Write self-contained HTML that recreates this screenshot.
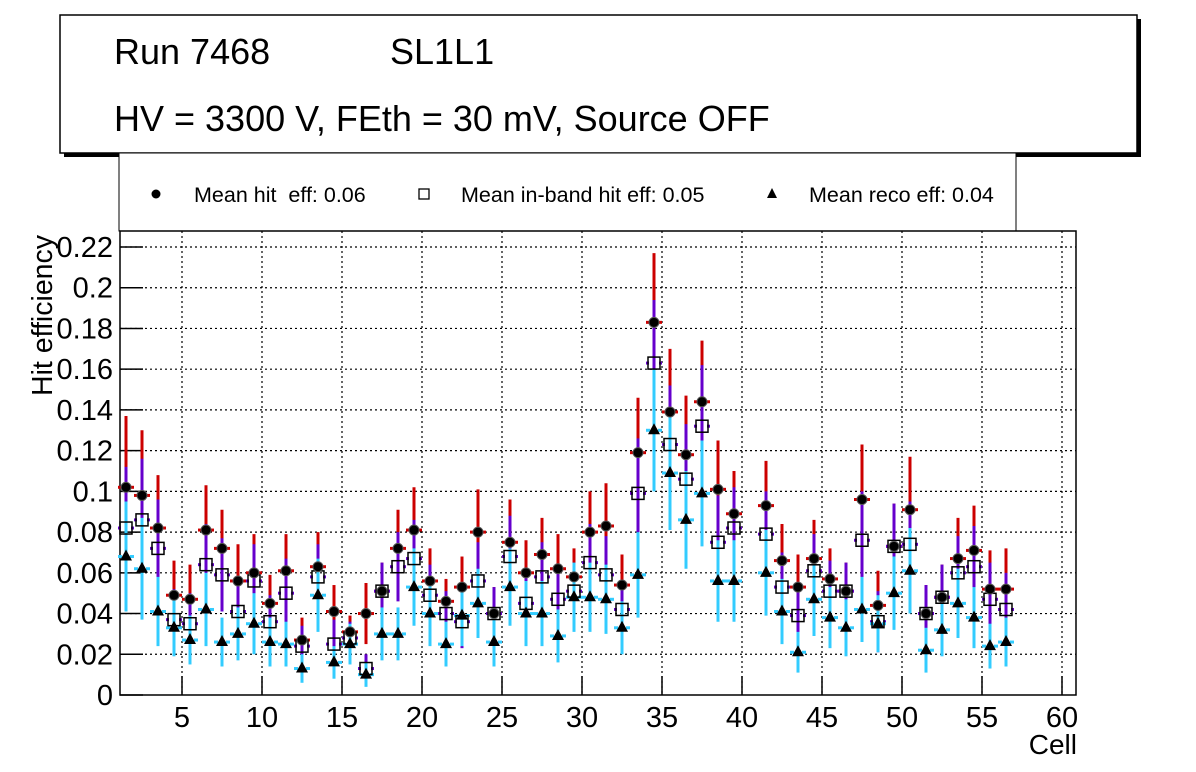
<!DOCTYPE html>
<html><head><meta charset="utf-8">
<style>
body{margin:0;background:#fff;}
svg{display:block;font-family:"Liberation Sans",sans-serif;}
</style></head>
<body>
<svg id="chart" width="1196" height="772">
<rect x="0" y="0" width="1196" height="772" fill="#fff"/>
<g>
<rect x="64" y="19" width="1077" height="138" fill="#000"/>
<rect x="60" y="15" width="1077" height="138" fill="#fff" stroke="#000" stroke-width="1.5"/>
<text x="114" y="64" font-size="36">Run 7468</text>
<text x="390" y="64" font-size="36">SL1L1</text>
<text x="114" y="131" font-size="36">HV = 3300 V, FEth = 30 mV, Source OFF</text>
</g>
<g>
<rect x="119" y="153" width="897" height="78" fill="#fff" stroke="#000" stroke-width="1"/>
<g>
<circle cx="156" cy="194" r="4.5" fill="#000"/>
<text x="194" y="202" font-size="21.5">Mean hit&#160; eff: 0.06</text></g>
<g>
<rect x="419" y="189" width="10" height="10" fill="#fff" stroke="#000" stroke-width="1.3"/>
<text x="461" y="202" font-size="21.5">Mean in-band hit eff: 0.05</text></g>
<g>
<polygon points="772,188 777,198 767,198" fill="#000"/>
<text x="809" y="202" font-size="21.5">Mean reco eff: 0.04</text></g>
</g>
<g id="grid"></g>
<g id="axes"></g>
<g id="marks"></g>
<text x="0" y="0" transform="translate(52,396) rotate(-90)" font-size="28.5">Hit efficiency</text>
<text x="1077" y="754" font-size="28" text-anchor="end">Cell</text>
</svg>
<script>
const cells = [1,2,3,4,5,6,7,8,9,10,11,12,13,14,15,16,17,18,19,20,21,22,23,24,25,26,27,28,29,30,31,32,33,34,35,36,37,38,39,41,42,43,44,45,46,47,48,49,50,51,52,53,54,55,56];
const hitEff = [0.102,0.098,0.082,0.049,0.047,0.081,0.072,0.056,0.060,0.045,0.061,0.027,0.063,0.041,0.031,0.040,0.051,0.072,0.081,0.056,0.046,0.053,0.080,0.040,0.075,0.060,0.069,0.062,0.058,0.080,0.083,0.054,0.119,0.183,0.139,0.118,0.144,0.101,0.089,0.093,0.066,0.053,0.067,0.057,0.051,0.096,0.044,0.073,0.091,0.040,0.048,0.067,0.071,0.052,0.052];
const hitErr = [0.035,0.032,0.026,0.017,0.017,0.022,0.019,0.018,0.019,0.014,0.018,0.011,0.017,0.013,0.008,0.015,0.014,0.019,0.021,0.016,0.011,0.015,0.021,0.013,0.021,0.016,0.018,0.017,0.014,0.020,0.021,0.015,0.027,0.034,0.031,0.029,0.030,0.024,0.021,0.022,0.018,0.016,0.019,0.015,0.014,0.027,0.017,0.021,0.026,0.014,0.016,0.020,0.022,0.019,0.020];
const inbandEff = [0.082,0.086,0.072,0.037,0.035,0.064,0.059,0.041,0.056,0.036,0.050,0.024,0.058,0.025,0.028,0.013,0.051,0.063,0.067,0.049,0.040,0.036,0.056,0.040,0.068,0.045,0.058,0.047,0.051,0.065,0.059,0.042,0.099,0.163,0.123,0.106,0.132,0.075,0.082,0.079,0.053,0.039,0.061,0.051,0.051,0.076,0.036,0.073,0.074,0.040,0.048,0.060,0.063,0.047,0.042];
const inbandErr = [0.030,0.030,0.024,0.015,0.015,0.020,0.018,0.016,0.018,0.013,0.017,0.010,0.016,0.012,0.008,0.007,0.014,0.017,0.019,0.015,0.011,0.013,0.019,0.013,0.020,0.015,0.017,0.015,0.014,0.019,0.019,0.014,0.027,0.031,0.029,0.027,0.030,0.023,0.020,0.021,0.017,0.014,0.018,0.015,0.014,0.024,0.015,0.021,0.021,0.014,0.016,0.018,0.020,0.018,0.018];
const recoEff = [0.068,0.062,0.041,0.033,0.027,0.042,0.026,0.030,0.035,0.026,0.025,0.013,0.049,0.016,0.025,0.010,0.030,0.030,0.053,0.040,0.025,0.039,0.045,0.026,0.053,0.040,0.040,0.029,0.048,0.048,0.047,0.033,0.059,0.130,0.109,0.086,0.099,0.056,0.056,0.060,0.041,0.021,0.047,0.038,0.033,0.042,0.035,0.050,0.061,0.022,0.032,0.045,0.038,0.024,0.026];
const recoErr = [0.027,0.025,0.017,0.014,0.012,0.018,0.012,0.013,0.015,0.012,0.011,0.007,0.018,0.008,0.010,0.006,0.013,0.013,0.019,0.016,0.011,0.015,0.017,0.012,0.019,0.016,0.016,0.013,0.017,0.017,0.017,0.013,0.021,0.030,0.028,0.024,0.026,0.020,0.020,0.021,0.016,0.010,0.018,0.015,0.014,0.016,0.014,0.018,0.021,0.011,0.013,0.017,0.015,0.011,0.012];
const yTicks = [0,0.02,0.04,0.06,0.08,0.1,0.12,0.14,0.16,0.18,0.2,0.22];
const yTickLabels = ["0","0.02","0.04","0.06","0.08","0.1","0.12","0.14","0.16","0.18","0.2","0.22"];
const xTicks = [5,10,15,20,25,30,35,40,45,50,55,60];

const NS="http://www.w3.org/2000/svg";
const L=120,R=1076,T=231,B=695;
const X0=1.125, X1=60.875;
function xs(v){return L+(v-X0)/(X1-X0)*(R-L);}
function ys(v){return B-v/0.22*(B-247);}
function mk(tag,attrs,parent){const e=document.createElementNS(NS,tag);for(const k in attrs)e.setAttribute(k,attrs[k]);parent.appendChild(e);return e;}
const grid=document.getElementById('grid'),axes=document.getElementById('axes'),marks=document.getElementById('marks');

const fr=mk('rect',{x:L,y:T,width:R-L,height:B-T,fill:'none',stroke:'#000','stroke-width':1.5},axes);

yTicks.forEach((t,i)=>{
  const y=ys(t);
  if(t>0){const g=mk('line',{x1:L,x2:R,y1:y,y2:y,stroke:'#000','stroke-dasharray':'2,3','stroke-width':1.2},grid);
  }
  mk('line',{x1:L,x2:L+23,y1:y,y2:y,stroke:'#000','stroke-width':1.5},axes);
  const lab=mk('text',{x:L-7,y:y+10,'font-size':29,'text-anchor':'end'},axes);lab.textContent=yTickLabels[i];
  
});
xTicks.forEach(t=>{const x=xs(t);
  const g=mk('line',{x1:x,x2:x,y1:T,y2:B,stroke:'#000','stroke-dasharray':'2,3','stroke-width':1.2},grid);
  
  mk('line',{x1:x,x2:x,y1:B,y2:B-19,stroke:'#000','stroke-width':1.5},axes);
  const lab=mk('text',{x:x,y:B+32,'font-size':29,'text-anchor':'middle'},axes);lab.textContent=String(t);
  
});

function errs(vals,errArr,color,gap){
  cells.forEach((c,i)=>{const x=xs(c+0.5),y=ys(vals[i]);
    const v=mk('line',{x1:x,x2:x,y1:ys(vals[i]+errArr[i]),y2:ys(Math.max(0,vals[i]-errArr[i])),stroke:color,'stroke-width':3},marks);
    
    mk('line',{x1:xs(c),x2:x-gap,y1:y,y2:y,stroke:color,'stroke-width':3},marks);
    mk('line',{x1:x+gap,x2:xs(c+1),y1:y,y2:y,stroke:color,'stroke-width':3},marks);
  });
}
errs(hitEff,hitErr,'#cc0000',3);
errs(inbandEff,inbandErr,'#6600cc',5);
errs(recoEff,recoErr,'#33ccff',4);
cells.forEach((c,i)=>{const x=xs(c+0.5);
  const s=mk('rect',{x:x-6,y:ys(inbandEff[i])-6,width:12,height:12,fill:'none',stroke:'#000','stroke-width':1.5},marks);
  
  const p=mk('circle',{cx:x,cy:ys(hitEff[i]),r:5,fill:'#000',stroke:'#555','stroke-width':1},marks);
  
  const yr=ys(recoEff[i]);
  const tr=mk('polygon',{points:`${x},${yr-7} ${x+6},${yr+4} ${x-6},${yr+4}`,fill:'#000'},marks);
  
});
</script>
</body></html>
